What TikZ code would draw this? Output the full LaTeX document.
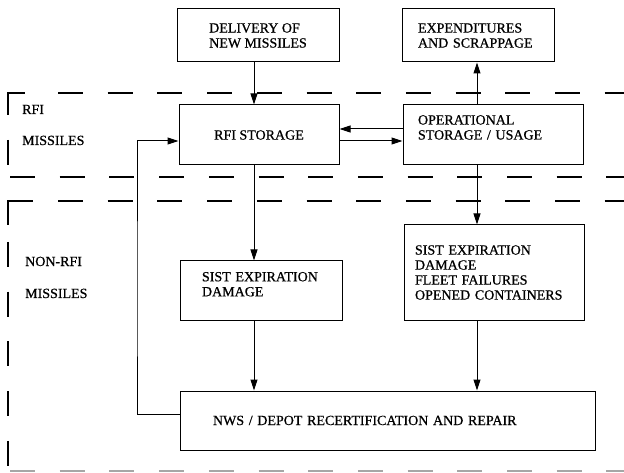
\documentclass[tikz,border=0pt]{standalone}
\usepackage{fontspec}
\setmainfont{Liberation Serif}
\newfontfamily\scanfont{Liberation Serif}[FakeBold=0.7]
\usetikzlibrary{arrows.meta}

\begin{document}
\begin{tikzpicture}[x=1pt, y=-1pt,
    box/.style={draw, line width=1pt, align=left, inner sep=4pt, font=\scanfont\fontsize{14}{15}\selectfont},
    side/.style={anchor=base west, inner sep=0pt, font=\scanfont\fontsize{14}{15}\selectfont},
    flow/.style={line width=1pt, -{Triangle[length=11pt, width=7pt]}},
    zone/.style={line width=1.1pt, dash pattern=on 25pt off 24.7pt}]

    \useasboundingbox (0,0) rectangle (624,473);

    % RFI / non-RFI zones
    \draw[line width=1.1pt] (8,115) -- (8,93) -- (25,93);
    \draw[line width=1.1pt] (8,140) -- (8,165);
    \draw[zone] (58,93) -- (624,93);
    \draw[zone] (10,177) -- (624,177);
    \draw[line width=1.1pt] (8,225) -- (8,201) -- (33,201);
    \draw[zone] (58,201) -- (624,201);
    \draw[zone] (8,242) -- (8,472);
    \draw[zone, black!35] (10,471) -- (624,471);

    \node[side] (rfiTag) at (22,114) {RFI};
    \node[side] (rfiMsl) at (22,145) {MISSILES};
    \node[side] (nonTag) at (25,266) {NON-RFI};
    \node[side] (nonMsl) at (25,298) {MISSILES};

    % boxes
    \node[box, minimum width=162pt, minimum height=53pt] (deliv) at (258,35.5) {DELIVERY OF\\NEW MISSILES};
    \node[box, minimum width=152pt, minimum height=53pt, text width=120pt] (expend) at (478,35.5) {EXPENDITURES\\AND SCRAPPAGE};
    \node[box, minimum width=160pt, minimum height=60pt] (rfi) at (259,135) {RFI STORAGE};
    \node[box, minimum width=180pt, text width=150pt, text height=15.5pt, text depth=36.5pt] (oper) at (493,135) {OPERATIONAL\\STORAGE / USAGE};
    \node[box, minimum width=162pt, text width=118pt, text height=16.3pt, text depth=34.7pt] (sistL) at (261,290.5) {SIST EXPIRATION\\DAMAGE};
    \node[box, minimum width=180pt, minimum height=95pt, text width=158pt] (sistR) at (494,272.5) {SIST EXPIRATION\\DAMAGE\\FLEET FAILURES\\OPENED CONTAINERS};
    \node[box, minimum width=415pt, minimum height=59pt, text width=349pt] (nws) at (387.5,420.5) {NWS / DEPOT RECERTIFICATION AND REPAIR};

    \coordinate (colL) at (254,0);
    \coordinate (colR) at (477,0);
    \coordinate (loop) at (137,300);

    % flows
    \draw[flow] (colL |- deliv.south) -- (colL |- rfi.north);
    \draw[flow] (colR |- oper.north) -- (colR |- expend.south);
    \draw[flow] ([yshift=6pt]oper.west) -- ([yshift=6pt]rfi.east);
    \draw[flow] ([yshift=-6pt]rfi.east) -- ([yshift=-6pt]oper.west);
    \draw[flow] (colL |- rfi.south) -- (colL |- sistL.north);
    \draw[flow] (colR |- oper.south) -- (colR |- sistR.north);
    \draw[flow] (colL |- sistL.south) -- (colL |- nws.north);
    \draw[flow] (colR |- sistR.south) -- (colR |- nws.north);
    \draw[flow] ([yshift=6.5pt]nws.west) -| (loop) |- ([yshift=-6pt]rfi.west);

\end{tikzpicture}
\end{document}
